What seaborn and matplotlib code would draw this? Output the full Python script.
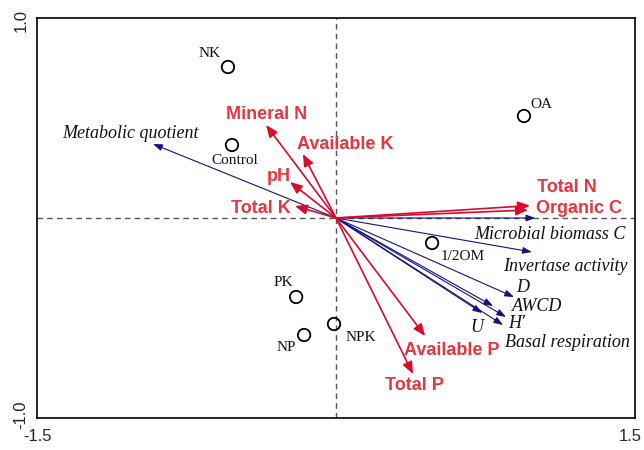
import matplotlib
matplotlib.use('Agg')
import matplotlib.pyplot as plt
import matplotlib.transforms as mtransforms
import pandas as pd
import seaborn as sns

# sample sites (circles)
sites = ['NK', 'OA', 'Control', '1/2OM', 'PK', 'NP', 'NPK']
site_x = [-0.542, 0.943, -0.522, 0.482, -0.200, -0.160, -0.010]
site_y = [0.755, 0.510, 0.365, -0.125, -0.395, -0.585, -0.530]

# soil properties (red arrows)
env_names = ['Mineral N', 'Available K', 'pH', 'Total K', 'Total N', 'Organic C', 'Available P', 'Total P']
env_x = [-0.351, -0.166, -0.231, -0.206, 0.973, 0.963, 0.447, 0.386]
env_y = [0.465, 0.320, 0.180, 0.060, 0.062, 0.040, -0.590, -0.780]

# microbial variables (blue arrows)
bio_names = ['Metabolic quotient', 'Microbial biomass C', 'Invertase activity', 'D', 'AWCD', "H'", 'U',
             'Basal respiration']
bio_x = [-0.918, 1.000, 0.983, 0.893, 0.788, 0.853, 0.733, 0.838]
bio_y = [0.370, 0.000, -0.170, -0.395, -0.440, -0.495, -0.475, -0.535]

# label offsets in pixels (layout only)
site_off = [(-18, 14), (17, 12), (3, -15), (31, -13), (-13, 15), (-18, -12), (27, -13)]
env_off = [(1, 11), (42, 10), (-11, 6), (-34, -2), (37, 18), (51, 2), (27, -14), (1, -11)]
bio_off = [(-23, 11), (15, -16), (33, -14), (9, 10), (44, 0), (11, -6), (-5, -14), (64, -17)]

RED_LINE = '#dc0a2a'
RED_TEXT = '#e8363e'
BLUE = '#13137f'

sns.set_style('white')
plt.rcParams['font.family'] = ['Liberation Sans', 'DejaVu Sans']

fig = plt.figure(figsize=(6.44, 4.5), dpi=100)
ax = fig.add_axes([0.0575, 0.0711, 0.9285, 0.8889])

ax.axhline(0, color='#555555', lw=1.0, ls=(0, (4, 3)), zorder=0)
ax.axvline(0, color='#555555', lw=1.0, ls=(0, (4, 3)), zorder=0)

for name, x, y, off in zip(env_names, env_x, env_y, env_off):
    ax.annotate('', xy=(x, y), xytext=(0, 0),
                arrowprops=dict(arrowstyle='-|>,head_length=0.6,head_width=0.25', mutation_scale=12,
                                color=RED_LINE, lw=1.2, shrinkA=0, shrinkB=0), zorder=3)
    ax.annotate(name, xy=(x, y), xytext=off, textcoords='offset pixels', ha='center', va='center',
                fontsize=13, fontweight='bold', color=RED_TEXT, family='Liberation Sans', zorder=5)

for name, x, y, off in zip(bio_names, bio_x, bio_y, bio_off):
    ax.annotate('', xy=(x, y), xytext=(0, 0),
                arrowprops=dict(arrowstyle='-|>,head_length=0.55,head_width=0.2', mutation_scale=10,
                                color=BLUE, lw=0.8, shrinkA=0, shrinkB=0), zorder=2)
    ax.annotate(name, xy=(x, y), xytext=off, textcoords='offset pixels', ha='center', va='center',
                fontsize=13, style='italic', color='#111111', family='Liberation Serif', zorder=5)

df = pd.DataFrame({'site': sites, 'x': site_x, 'y': site_y})
sns.scatterplot(data=df, x='x', y='y', ax=ax, s=80, marker='o', facecolor='none',
                edgecolor='black', linewidth=1.3, zorder=4, legend=False)
for name, x, y, off in zip(sites, site_x, site_y, site_off):
    ax.annotate(name, xy=(x, y), xytext=off, textcoords='offset pixels', ha='center', va='center',
                fontsize=11, color='#111111', family='Liberation Serif', zorder=5)

ax.set_xlim(-1.5, 1.5)
ax.set_ylim(-1.0, 1.0)
ax.set_xticks([-1.5, -1.0, -0.5, 0, 0.5, 1.0, 1.5])
ax.set_xticklabels(['-1.5', '', '', '', '', '', '1.5'])
ax.set_yticks([-1.0, -0.5, 0, 0.5, 1.0])
ax.set_yticklabels(['-1.0', '', '', '', '1.0'], rotation=90, va='center')
ax.tick_params(axis='both', direction='inout', length=6, width=1.0, color='black', labelsize=12)
ax.tick_params(axis='x', pad=5)
ax.tick_params(axis='y', pad=3)

# keep the end labels inside the canvas
xlabs = ax.get_xticklabels()
xlabs[-1].set_transform(xlabs[-1].get_transform() +
                        mtransforms.ScaledTranslation(-0.05, 0, fig.dpi_scale_trans))
ylabs = ax.get_yticklabels()
ylabs[0].set_transform(ylabs[0].get_transform() +
                       mtransforms.ScaledTranslation(0, 0.03, fig.dpi_scale_trans))
ylabs[-1].set_transform(ylabs[-1].get_transform() +
                        mtransforms.ScaledTranslation(0, -0.03, fig.dpi_scale_trans))
ax.set_xlabel('')
ax.set_ylabel('')
for sp in ax.spines.values():
    sp.set_color('black')
    sp.set_linewidth(1.2)

fig.savefig('out.png', dpi=100)
